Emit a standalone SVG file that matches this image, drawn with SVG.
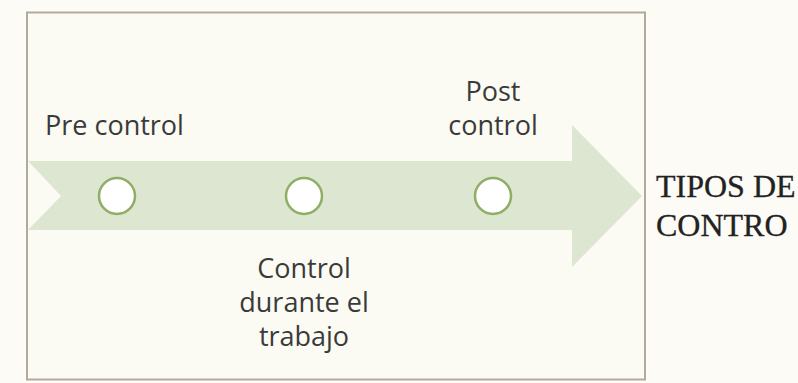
<svg xmlns="http://www.w3.org/2000/svg" width="798" height="383" viewBox="0 0 798 383">
<style>
.lbl{font-family:"Open Sans","Liberation Sans",sans-serif;font-size:27px;fill:#3a3a3a;}
.ttl{font-family:"Liberation Serif","Times New Roman",serif;font-size:32px;fill:#222;stroke:#222;stroke-width:0.3;}
.dot{fill:#ffffff;stroke:#8fae66;stroke-width:2.5;}
</style>
<rect x="0" y="0" width="798" height="383" fill="#fcfbf6"/>
<rect x="27" y="12.5" width="618" height="367" fill="#fbfaf3" stroke="#b3aa9a" stroke-width="2"/>
<g id="arrow">
<path d="M28,161 L572,161 L572,125 L642,196 L572,267 L572,230 L28,230 L61,196 Z" fill="#dde6d1"/>
</g>
<g id="pre">
<circle class="dot" cx="117" cy="196" r="18"/>
<text class="lbl" x="45" y="135">Pre control</text>
</g>
<g id="durante">
<circle class="dot" cx="304" cy="196" r="18"/>
<text class="lbl" text-anchor="middle" x="304" y="278">Control</text>
<text class="lbl" text-anchor="middle" x="304" y="312">durante el</text>
<text class="lbl" text-anchor="middle" x="304" y="346">trabajo</text>
</g>
<g id="post">
<circle class="dot" cx="493" cy="196" r="18"/>
<text class="lbl" text-anchor="middle" x="493" y="101">Post</text>
<text class="lbl" text-anchor="middle" x="493" y="135">control</text>
</g>
<g id="title">
<text class="ttl" x="656" y="197">TIPOS DE</text>
<text class="ttl" x="656" y="236">CONTRO</text>
</g>
</svg>
